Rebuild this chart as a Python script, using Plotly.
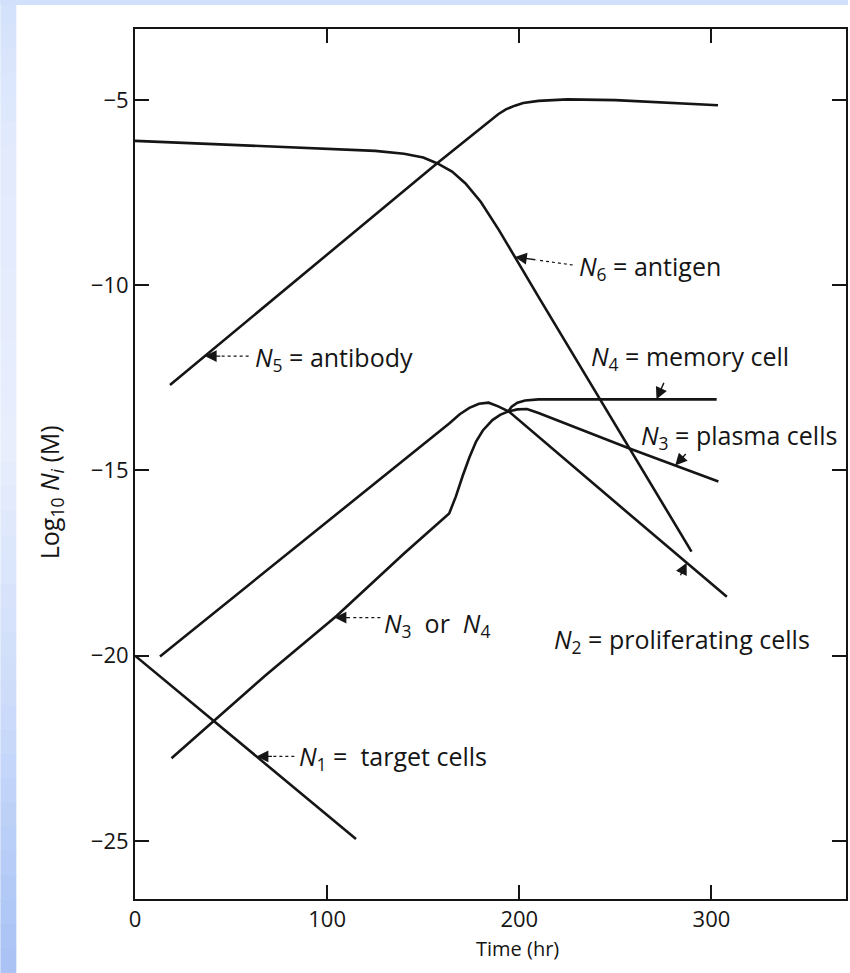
import numpy as np
import plotly.graph_objects as go

# ---------------- data ----------------
t_n1 = [0, 115]
n1 = [-20.0, -24.95]

t_n2 = [13, 60, 110, 150, 163.5, 169, 174, 179, 184, 189, 194.6, 250, 308]
n2 = [-20.02, -18.06, -15.97, -14.3, -13.73, -13.48, -13.31, -13.2, -13.17, -13.27, -13.41, -15.86, -18.41]

t_n34 = [19, 41.5, 68, 105, 140, 163.5, 167, 170.5, 174, 177.5, 181, 186, 190, 194]
n34 = [-22.77, -21.74, -20.53, -18.92, -17.24, -16.16, -15.7, -15.15, -14.65, -14.22, -13.92, -13.64, -13.5, -13.41]

t_n3 = [194, 199, 204, 210, 257, 303.6]
n3 = [-13.41, -13.35, -13.34, -13.45, -14.40, -15.30]

t_n4 = [194, 196, 199, 203, 210, 302.7]
n4 = [-13.42, -13.28, -13.17, -13.11, -13.08, -13.08]

t_n5 = [18.2, 100, 157.4, 189, 193, 197.7, 202, 210, 225, 250, 275, 303.4]
n5 = [-12.69, -9.17, -6.70, -5.38, -5.25, -5.15, -5.08, -5.02, -4.98, -5.0, -5.07, -5.14]

t_n6 = [0, 50, 100, 125, 140, 150, 157.4, 165, 172, 180, 189.4, 211, 289.6]
n6 = [-6.10, -6.21, -6.31, -6.37, -6.45, -6.55, -6.71, -6.93, -7.25, -7.75, -8.51, -10.40, -17.19]

x_ticks = [0, 100, 200, 300]
x_ticktext = ["0", "100", "200", "300"]
y_ticks = [-5, -10, -15, -20, -25]
y_ticktext = ["\u22125", "\u221210", "\u221215", "\u221220", "\u221225"]

X_RANGE = [0, 370]
Y_RANGE = [-26.57, -3.08]

# ---------------- figure ----------------
W, H = 850, 973
ML, MR, MT, MB = 135, 2, 29, 74
PW, PH = W - ML - MR, H - MT - MB
XPX = PW / (X_RANGE[1] - X_RANGE[0])
YPX = PH / (Y_RANGE[1] - Y_RANGE[0])

FONT = "Open Sans"
INK = "#151515"

fig = go.Figure()
for tx, vy in [(t_n1, n1), (t_n2, n2), (t_n34, n34), (t_n3, n3), (t_n4, n4), (t_n5, n5), (t_n6, n6)]:
    fig.add_trace(go.Scatter(x=tx, y=vy, mode="lines",
                             line=dict(color=INK, width=2.6),
                             showlegend=False, hoverinfo="skip"))

# ---------------- background strips (blue frame) ----------------
shapes = []
stops = [(0, (212, 225, 251)), (150, (226, 234, 252)), (450, (232, 238, 252)),
         (700, (205, 220, 250)), (973, (168, 194, 244))]


def col_at(py):
    for (p0, c0), (p1, c1) in zip(stops[:-1], stops[1:]):
        if p0 <= py <= p1:
            f = (py - p0) / (p1 - p0)
            return "rgb(%d,%d,%d)" % tuple(round(a + (b - a) * f) for a, b in zip(c0, c1))
    return "rgb(168,194,244)"


def px2paper_x(px):
    return (px - ML) / PW


def px2paper_y(py):
    return (H - MB - py) / PH


nslice = 40
for i in range(nslice):
    y0 = H * i / nslice
    y1 = H * (i + 1) / nslice + 1
    shapes.append(dict(type="rect", xref="paper", yref="paper", layer="below",
                       x0=px2paper_x(0), x1=px2paper_x(16),
                       y0=px2paper_y(y1), y1=px2paper_y(y0),
                       fillcolor=col_at((y0 + y1) / 2), line=dict(width=0)))
shapes.append(dict(type="rect", xref="paper", yref="paper", layer="below",
                   x0=px2paper_x(0), x1=px2paper_x(W),
                   y0=px2paper_y(5), y1=px2paper_y(0),
                   fillcolor="rgb(210,224,251)", line=dict(width=0)))

# ---------------- labels with arrows ----------------
annotations = []
TF = dict(family=FONT, size=25, color=INK)


def label(text, px, py):
    annotations.append(dict(text=text, xref="paper", yref="paper",
                            x=px2paper_x(px), y=px2paper_y(py),
                            xanchor="left", yanchor="middle",
                            showarrow=False, font=TF))


def arrow(tx_, series_t, series_v, ax, ay, dot_to=None):
    """Arrow whose tip touches a curve; tail offset (ax, ay) in pixels (y down)."""
    ty = float(np.interp(tx_, series_t, series_v))
    annotations.append(dict(text="", x=tx_, y=ty, xref="x", yref="y",
                            showarrow=True, arrowhead=2, arrowsize=1.7,
                            arrowwidth=1.4, arrowcolor=INK,
                            ax=ax, ay=ay, axref="pixel", ayref="pixel"))
    if dot_to is not None:
        xt = tx_ + ax / XPX
        yt = ty - ay / YPX
        xd = tx_ + dot_to[0] / XPX
        yd = ty - dot_to[1] / YPX
        fig.add_trace(go.Scatter(x=[xd, xt], y=[yd, yt], mode="lines",
                                 line=dict(color=INK, width=1.2, dash="dot"),
                                 showlegend=False, hoverinfo="skip"))


label("<i>N</i><sub>5</sub> = antibody", 253, 358)
arrow(36.3, t_n5, n5, 17, 0, dot_to=(44, 0))

label("<i>N</i><sub>6</sub> = antigen", 578, 267)
arrow(197.7, t_n6, n6, 22, 3, dot_to=(58, 8))

label("<i>N</i><sub>4</sub> = memory cell", 590, 357)
arrow(271.4, t_n4, n4, 8, -18)

label("<i>N</i><sub>3</sub> = plasma cells", 640, 436)
arrow(281.1, t_n3, n3, 12, -13)

label("<i>N</i><sub>2</sub> = proliferating cells", 553, 640)
arrow(287.1, t_n2, n2, -7, 14)

label("<i>N</i><sub>3</sub>  or  <i>N</i><sub>4</sub>", 383, 624)
arrow(103.8, t_n34, n34, 17, 0, dot_to=(46, 0))

label("<i>N</i><sub>1</sub> =  target cells", 297, 757)
arrow(63.2, t_n1, n1, 17, 0, dot_to=(38, 0))

# axis titles
annotations.append(dict(text="Time (hr)", xref="paper", yref="paper",
                        x=px2paper_x(519), y=px2paper_y(948),
                        xanchor="center", yanchor="middle", showarrow=False,
                        font=dict(family=FONT, size=20, color=INK)))
annotations.append(dict(text="Log<sub>10</sub> <i>N<sub>i</sub></i> (M)", xref="paper", yref="paper",
                        x=px2paper_x(50), y=px2paper_y(492), textangle=-90,
                        xanchor="center", yanchor="middle", showarrow=False,
                        font=dict(family=FONT, size=25, color=INK)))

axis_common = dict(showgrid=False, zeroline=False, showline=True, linecolor=INK,
                   linewidth=2, mirror="ticks", ticks="inside", ticklen=14,
                   tickwidth=1.5, tickcolor=INK,
                   tickfont=dict(family=FONT, size=22, color=INK))

fig.update_layout(
    width=W, height=H,
    margin=dict(l=ML, r=MR, t=MT, b=MB, pad=0),
    paper_bgcolor="white", plot_bgcolor="white",
    xaxis=dict(range=X_RANGE, tickmode="array", tickvals=x_ticks,
               ticktext=x_ticktext, **axis_common),
    yaxis=dict(range=Y_RANGE, tickmode="array", tickvals=y_ticks,
               ticktext=y_ticktext, **axis_common),
    shapes=shapes, annotations=annotations,
)

fig.write_html("out.html", config={"displayModeBar": False},
               post_script="document.body.style.margin='0';")
